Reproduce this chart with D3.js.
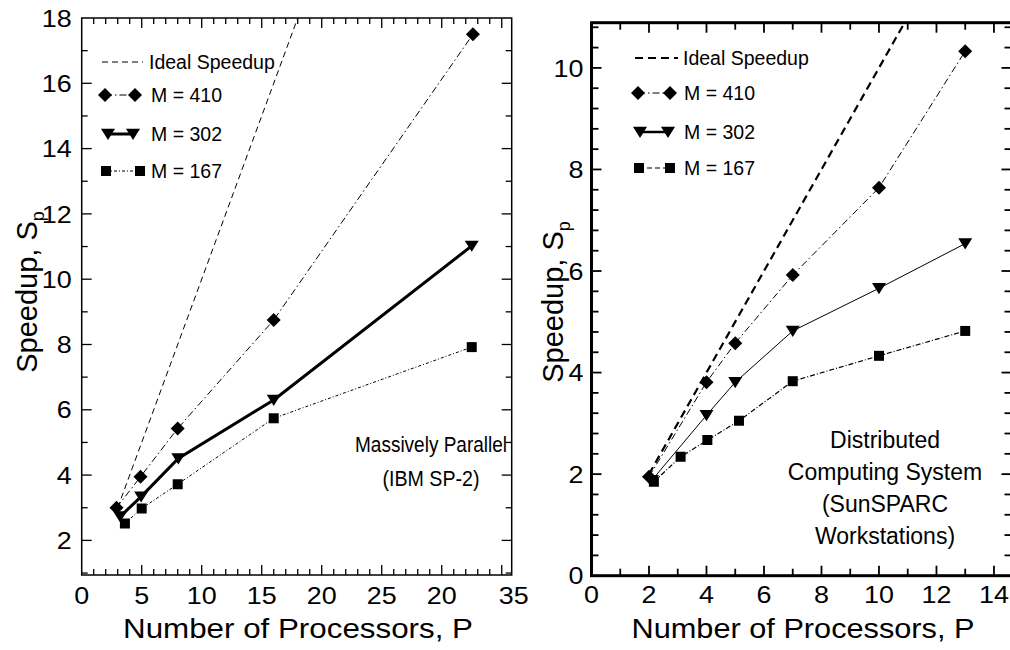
<!DOCTYPE html>
<html><head><meta charset="utf-8">
<script src="https://cdn.jsdelivr.net/npm/d3@7"></script>
<style>
html,body{margin:0;padding:0;background:#fff;}
svg{display:block;}
text{font-family:"Liberation Sans",Arial,Helvetica,sans-serif;fill:#000;}
</style></head>
<body>
<svg id="chart" width="1010" height="650"></svg>
<script>
// ---------- DATA ----------
// Left panel: Massively Parallel (IBM SP-2)
const leftXTicks = [0, 5, 10, 15, 20, 25, 30, 35];
const leftXTickLabels = ["0", "5", "10", "15", "20", "25", "20", "35"];
const leftYTicks = [2, 4, 6, 8, 10, 12, 14, 16, 18];
const leftIdealP = [3, 18.5];
const leftIdealS = [3, 18.5];
const left410P = [2.9, 4.9, 8.0, 16.0, 32.6];
const left410S = [3.0, 3.95, 5.43, 8.75, 17.5];
const left302P = [3.2, 4.95, 8.05, 16.0, 32.5];
const left302S = [2.73, 3.34, 4.51, 6.3, 11.02];
const left167P = [3.6, 5.0, 8.0, 16.0, 32.5];
const left167S = [2.52, 2.98, 3.72, 5.74, 7.92];

// Right panel: Distributed Computing System (SunSPARC Workstations)
const rightXTicks = [0, 2, 4, 6, 8, 10, 12, 14];
const rightYTicks = [0, 2, 4, 6, 8, 10];
const rightIdealP = [2, 11.2];
const rightIdealS = [2, 11.2];
const right410P = [2, 4, 5, 7, 10, 13];
const right410S = [1.95, 3.81, 4.58, 5.92, 7.64, 10.33];
const right302P = [2.1, 4, 5, 7, 10, 13];
const right302S = [1.88, 3.16, 3.81, 4.82, 5.66, 6.54];
const right167P = [2.17, 3.1, 4.03, 5.13, 7, 10, 13];
const right167S = [1.85, 2.34, 2.67, 3.05, 3.83, 4.33, 4.82];

const legendLabels = ["Ideal Speedup", "M = 410", "M = 302", "M = 167"];
const xTitle = "Number of Processors, P";
const leftNote = ["Massively Parallel", "(IBM SP-2)"];
const rightNote = ["Distributed", "Computing System", "(SunSPARC", "Workstations)"];

// ---------- DRAW ----------
const svg = d3.select("#chart");

const marker = {
  diamond: (r) => `M0,${-r}L${r},0L0,${r}L${-r},0Z`,
  tri: (r) => `M${-r},${-r*0.75}L${r},${-r*0.75}L0,${r*0.85}Z`,
  square: (r) => `M${-r},${-r}H${r}V${r}H${-r}Z`
};

function zip(a, b) { return a.map((v, i) => [v, b[i]]); }

function panel(cfg) {
  const g = svg.append("g");
  const x = d3.scaleLinear().domain(cfg.xDomain).range(cfg.xRange);
  const y = d3.scaleLinear().domain(cfg.yDomain).range(cfg.yRange);
  const [x0, x1] = cfg.xRange, [y0, y1] = cfg.yRange;

  const clipId = "clip" + cfg.id;
  svg.append("clipPath").attr("id", clipId).append("rect")
    .attr("x", x0).attr("y", y1).attr("width", x1 - x0).attr("height", y0 - y1);

  const tk = g.append("g").attr("stroke", "#000");
  cfg.xMinor.forEach(v => {
    const len = cfg.xMajorTest(v) ? cfg.majLen : cfg.minLen;
    tk.append("line").attr("x1", x(v)).attr("x2", x(v)).attr("y1", y0).attr("y2", y0 - len).attr("stroke-width", cfg.tickW);
    tk.append("line").attr("x1", x(v)).attr("x2", x(v)).attr("y1", y1).attr("y2", y1 + len).attr("stroke-width", cfg.tickW);
  });
  cfg.yMinor.forEach(v => {
    const len = cfg.yMajorTest(v) ? cfg.majLen : cfg.minLen;
    tk.append("line").attr("x1", x0).attr("x2", x0 + len).attr("y1", y(v)).attr("y2", y(v)).attr("stroke-width", cfg.tickW);
    tk.append("line").attr("x1", x1).attr("x2", x1 - len).attr("y1", y(v)).attr("y2", y(v)).attr("stroke-width", cfg.tickW);
  });

  g.append("rect").attr("x", x0).attr("y", y1).attr("width", x1 - x0).attr("height", y0 - y1)
    .attr("fill", "none").attr("stroke", "#000").attr("stroke-width", cfg.frameW);

  cfg.xTicks.forEach((v, i) => {
    const px = x(v) + (cfg.xLabelShift ? cfg.xLabelShift(v) : 0);
    g.append("text").attr("transform", `translate(${px},${cfg.xLabelY}) scale(1.12,1)`)
      .attr("text-anchor", "middle").attr("font-size", cfg.tickFont)
      .text(cfg.xTickLabels ? cfg.xTickLabels[i] : String(v));
  });
  cfg.yTicks.forEach(v => {
    g.append("text").attr("transform", `translate(${x0 - cfg.yLabelGap},${y(v)}) scale(1.12,1)`).attr("dy", "0.36em")
      .attr("text-anchor", "end").attr("font-size", cfg.tickFont).text(String(v));
  });

  g.append("text").attr("x", cfg.xTitleX).attr("y", 638)
    .attr("text-anchor", "middle").attr("font-size", 28)
    .attr("textLength", cfg.xTitleLen).attr("lengthAdjust", "spacingAndGlyphs").text(xTitle);
  const yt = g.append("text").attr("transform", `translate(${cfg.yTitleX},${cfg.yTitleY}) rotate(-90)`)
    .attr("text-anchor", "middle").attr("font-size", 29);
  yt.append("tspan").text("Speedup, S");
  yt.append("tspan").attr("font-size", 18).attr("dy", 7).text("p");

  const line = d3.line().x(d => x(d[0])).y(d => y(d[1]));
  const data = g.append("g").attr("clip-path", `url(#${clipId})`);
  cfg.series.forEach(s => {
    data.append("path").attr("d", line(zip(s.p, s.s))).attr("fill", "none")
      .attr("stroke", "#000").attr("stroke-width", s.w).attr("stroke-dasharray", s.dash || null);
  });
  cfg.series.forEach(s => {
    if (!s.m) return;
    zip(s.p, s.s).forEach(d => {
      data.append("path").attr("d", marker[s.m](s.r)).attr("transform", `translate(${x(d[0])},${y(d[1])})`).attr("fill", "#000");
    });
  });

  const lg = g.append("g");
  cfg.series.forEach((s, i) => {
    const L = cfg.legend[i];
    lg.append("line").attr("x1", L.x1).attr("x2", L.x2).attr("y1", L.y).attr("y2", L.y)
      .attr("stroke", "#000").attr("stroke-width", s.lw || s.w).attr("stroke-dasharray", s.ldash || s.dash || null);
    if (s.m) {
      [L.x1, L.x2].forEach(px => lg.append("path").attr("d", marker[s.m](s.r)).attr("transform", `translate(${px},${L.y})`));
    }
    lg.append("text").attr("x", L.tx).attr("y", L.y).attr("dy", "0.36em").attr("font-size", cfg.legendFont).text(legendLabels[i]);
  });

  cfg.note.forEach((t, i) => {
    const tx = g.append("text").attr("x", cfg.noteX).attr("y", cfg.noteY + i * cfg.noteDy).attr("text-anchor", "middle")
      .attr("font-size", cfg.noteFont).text(t);
    if (cfg.noteLen) tx.attr("textLength", cfg.noteLen[i]).attr("lengthAdjust", "spacingAndGlyphs");
  });
}

panel({
  id: "L",
  xDomain: [0, 35.83], xRange: [81.7, 511.7],
  yDomain: [0.94, 18], yRange: [575, 18],
  xMinor: d3.range(1, 36), xMajorTest: v => v % 5 === 0,
  yMinor: d3.range(1, 18), yMajorTest: v => v % 2 === 0,
  majLen: 10, minLen: 6, tickW: 1.3, frameW: 1.5,
  xTicks: leftXTicks, xTickLabels: leftXTickLabels, yTicks: leftYTicks,
  xLabelShift: v => (v === 35 ? 12 : 0),
  xLabelY: 604, tickFont: 24, yLabelGap: 10,
  xTitleX: 298, xTitleLen: 350, yTitleX: 37, yTitleY: 292,
  series: [
    { p: leftIdealP, s: leftIdealS, w: 1, dash: "6,4" },
    { p: left410P, s: left410S, w: 1, dash: "7,3,1.5,3", m: "diamond", r: 7 },
    { p: left302P, s: left302S, w: 3, m: "tri", r: 7, lw: 3 },
    { p: left167P, s: left167S, w: 1, dash: "3,2,1,2", m: "square", r: 5 }
  ],
  legend: [
    { x1: 102, x2: 143, y: 62, tx: 149 },
    { x1: 105, x2: 135, y: 95, tx: 151 },
    { x1: 108, x2: 133, y: 134, tx: 151 },
    { x1: 106, x2: 140, y: 171, tx: 151 }
  ],
  legendFont: 19.5,
  note: leftNote, noteX: 431, noteY: 452, noteDy: 34, noteFont: 22, noteLen: [152, 97]
});

panel({
  id: "R",
  xDomain: [0, 14.61], xRange: [591.5, 1011.5],
  yDomain: [0, 10.89], yRange: [575.7, 22.7],
  xMinor: d3.range(1, 15), xMajorTest: v => v % 2 === 0,
  yMinor: d3.range(0.4, 10.89, 0.4).map(v => +v.toFixed(1)), yMajorTest: v => Math.abs(v - Math.round(v)) < 1e-6 && Math.round(v) % 2 === 0,
  majLen: 10, minLen: 7, tickW: 1.8, frameW: 3,
  xTicks: rightXTicks, yTicks: rightYTicks,
  xLabelY: 603, tickFont: 24, yLabelGap: 8,
  xTitleX: 803, xTitleLen: 343, yTitleX: 563, yTitleY: 302,
  series: [
    { p: rightIdealP, s: rightIdealS, w: 2.2, dash: "8,5" },
    { p: right410P, s: right410S, w: 1, dash: "7,3,1.5,3", m: "diamond", r: 7 },
    { p: right302P, s: right302S, w: 1, m: "tri", r: 7, lw: 2.5 },
    { p: right167P, s: right167S, w: 1.2, dash: "5,2,1,2", m: "square", r: 5, ldash: "5,3" }
  ],
  legend: [
    { x1: 635, x2: 678, y: 58, tx: 683 },
    { x1: 638, x2: 670, y: 93, tx: 684 },
    { x1: 640, x2: 668, y: 132, tx: 684 },
    { x1: 639, x2: 670, y: 168, tx: 684 }
  ],
  legendFont: 19.5,
  note: rightNote, noteX: 885, noteY: 448, noteDy: 32, noteFont: 23
});
</script>
</body></html>
